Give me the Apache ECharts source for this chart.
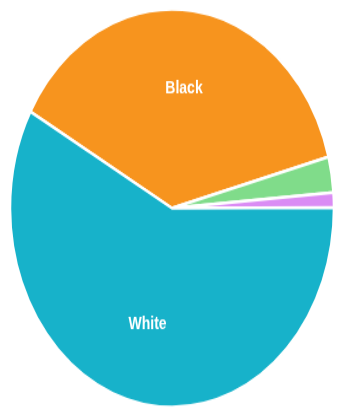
<!DOCTYPE html>
<html>
<head>
<meta charset="utf-8">
<script src="https://cdn.jsdelivr.net/npm/echarts@6/dist/echarts.min.js"></script>
<style>
  html, body { margin: 0; padding: 0; background: #ffffff; overflow: hidden; }
  #wrap { width: 339px; height: 409px; overflow: hidden; }
  /* the pie is drawn round, then stretched vertically into an oval */
  #chart { width: 339px; height: 334px; transform-origin: 0 0; transform: scaleY(1.228); }
</style>
</head>
<body>
<div id="wrap"><div id="chart"></div></div>
<script>
// Share of population by race (percent)
const categories = ['Black', 'Other', 'Asian', 'White'];
const shares = [37.8, 2.9, 1.2, 58.1];
const sliceColors = ['#F7941E', '#80DC8A', '#DA8CF4', '#17B2CA'];
const shownLabels = ['Black', 'White'];

const chart = echarts.init(document.getElementById('chart'), null, { renderer: 'canvas' });

const sliceData = categories.map((name, i) => ({
  name: name,
  value: shares[i],
  itemStyle: { color: sliceColors[i] }
}));

const labelData = categories.map((name, i) => ({
  name: name,
  value: shares[i],
  label: { show: shownLabels.includes(name) }
}));

chart.setOption({
  animation: false,
  backgroundColor: '#ffffff',
  series: [
    {
      type: 'pie',
      center: [172, 169.5],
      radius: [0, 162],
      startAngle: 151,
      clockwise: true,
      avoidLabelOverlap: false,
      silent: true,
      label: { show: false },
      labelLine: { show: false },
      itemStyle: { borderColor: '#ffffff', borderWidth: 2.5 },
      data: sliceData
    },
    {
      // transparent ring that only carries the slice names
      type: 'pie',
      center: [172, 169.5],
      radius: [28, 162],
      startAngle: 151,
      clockwise: true,
      avoidLabelOverlap: false,
      silent: true,
      itemStyle: { color: 'rgba(0,0,0,0)' },
      label: {
        position: 'inside',
        color: '#ffffff',
        fontFamily: 'Liberation Sans, Arial, sans-serif',
        fontWeight: 'bold',
        fontSize: 14,
        formatter: '{b}'
      },
      labelLine: { show: false },
      data: labelData
    }
  ]
});
</script>
</body>
</html>
